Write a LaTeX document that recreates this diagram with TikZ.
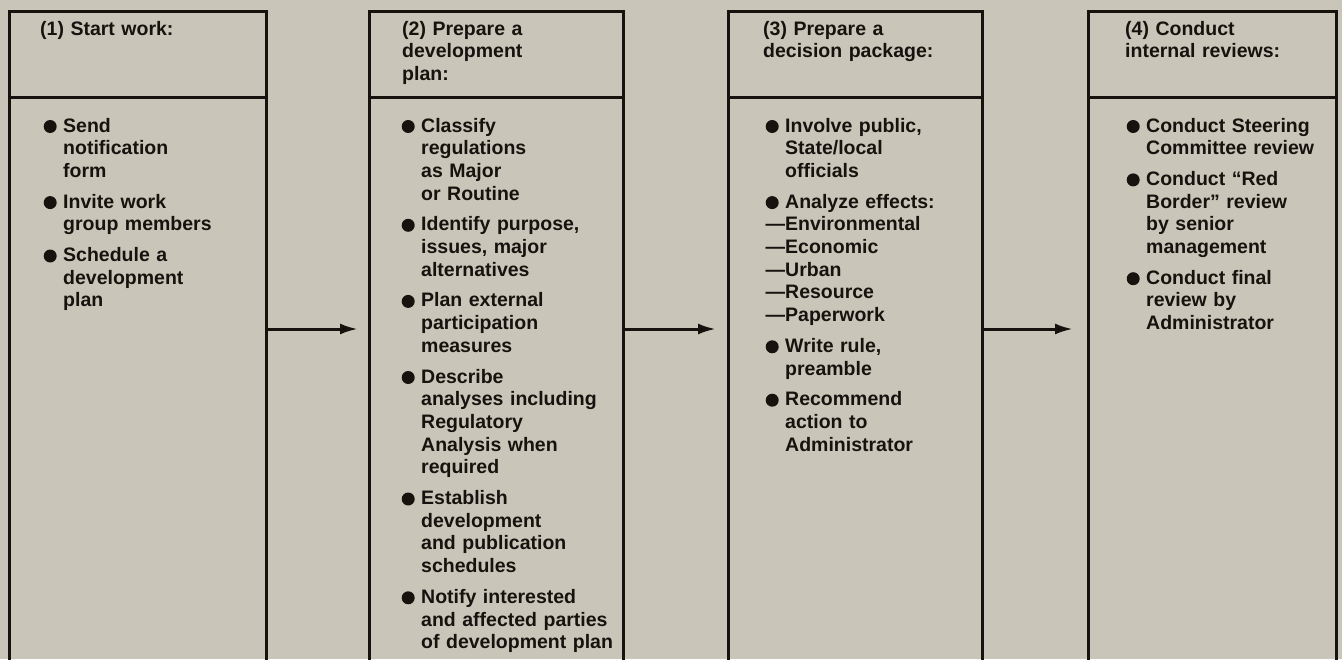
\documentclass[tikz,border=0pt]{standalone}
\usepackage{fontspec}
\setmainfont{Liberation Sans}
\usetikzlibrary{arrows.meta}
\definecolor{paper}{RGB}{201,198,185}
\definecolor{ink}{RGB}{22,18,14}
\newcommand{\blt}{\tikz[baseline=0pt]\fill[ink] (6.5pt,5.5pt) circle (6.5pt);}
\newcommand{\itmf}[1]{\hangindent=19.5pt\hangafter=1\noindent\makebox[19.5pt][l]{\blt}#1}
\newcommand{\itm}[1]{\par\itmf{#1}}
\newcommand{\bk}{\hspace*{-19.5pt}}
\tikzset{
  boxline/.style={draw=ink, line width=3pt, inner sep=0pt, outer sep=0pt, anchor=north west},
  hdr/.style={boxline, minimum height=86pt},
  body/.style={boxline, minimum height=640pt},
  txt/.style={font=\fontsize{19.5}{22.7}\selectfont\bfseries, text=ink, inner sep=0pt, anchor=base west, text width=250pt, execute at begin node={\setlength{\parskip}{8pt}}},
  arr/.style={draw=ink, line width=3pt, -{Latex[length=18pt,width=11pt]}}
}
\begin{document}
\begin{tikzpicture}[x=1pt,y=-1pt]
\useasboundingbox (0,0) rectangle (1342,659);
\fill[paper] (0,0) rectangle (1342,659);
\clip (0,0) rectangle (1342,659);
% boxes
\node[hdr, minimum width=257pt] (b1h) at (9,11) {};
\node[body, minimum width=257pt] (b1) at (b1h.south west) {};
\node[hdr, minimum width=254pt] (b2h) at (369,11) {};
\node[body, minimum width=254pt] (b2) at (b2h.south west) {};
\node[hdr, minimum width=254pt] (b3h) at (728,11) {};
\node[body, minimum width=254pt] (b3) at (b3h.south west) {};
\node[hdr, minimum width=248pt] (b4h) at (1088,11) {};
\node[body, minimum width=248pt] (b4) at (b4h.south west) {};
% headers
\node[txt] (t1h) at (40,35) {\noindent(1) Start work:};
\node[txt] (t2h) at (402,35) {\noindent(2) Prepare a\newline development\newline plan:};
\node[txt] (t3h) at (763,35) {\noindent(3) Prepare a\newline decision package:};
\node[txt] (t4h) at (1125,35) {\noindent(4) Conduct\newline internal reviews:};
% bodies
\node[txt] (t1) at (43.5,132) {\itmf{Send\newline notification\newline form}%
\itm{Invite work\newline group members}%
\itm{Schedule a\newline development\newline plan}\par};
\node[txt] (t2) at (401.5,132) {\itmf{Classify\newline regulations\newline as Major\newline or Routine}%
\itm{Identify purpose,\newline issues, major\newline alternatives}%
\itm{Plan external\newline participation\newline measures}%
\itm{Describe\newline analyses including\newline Regulatory\newline Analysis when\newline required}%
\itm{Establish\newline development\newline and publication\newline schedules}%
\itm{Notify interested\newline and affected parties\newline of development plan}\par};
\node[txt] (t3) at (765.5,132) {\itmf{Involve public,\newline State/local\newline officials}%
\itm{Analyze effects:\newline\bk—Environmental\newline\bk—Economic\newline\bk—Urban\newline\bk—Resource\newline\bk—Paperwork}%
\itm{Write rule,\newline preamble}%
\itm{Recommend\newline action to\newline Administrator}\par};
\node[txt] (t4) at (1126.5,132) {\itmf{Conduct Steering\newline Committee review}%
\itm{Conduct “Red\newline Border” review\newline by senior\newline management}%
\itm{Conduct final\newline review by\newline Administrator}\par};
% arrows
\coordinate (a1) at (358,329);
\coordinate (a2) at (716,329);
\coordinate (a3) at (1073,329);
\draw[arr] (b1.east |- a1) -- (a1);
\draw[arr] (b2.east |- a2) -- (a2);
\draw[arr] (b3.east |- a3) -- (a3);
\end{tikzpicture}
\end{document}
